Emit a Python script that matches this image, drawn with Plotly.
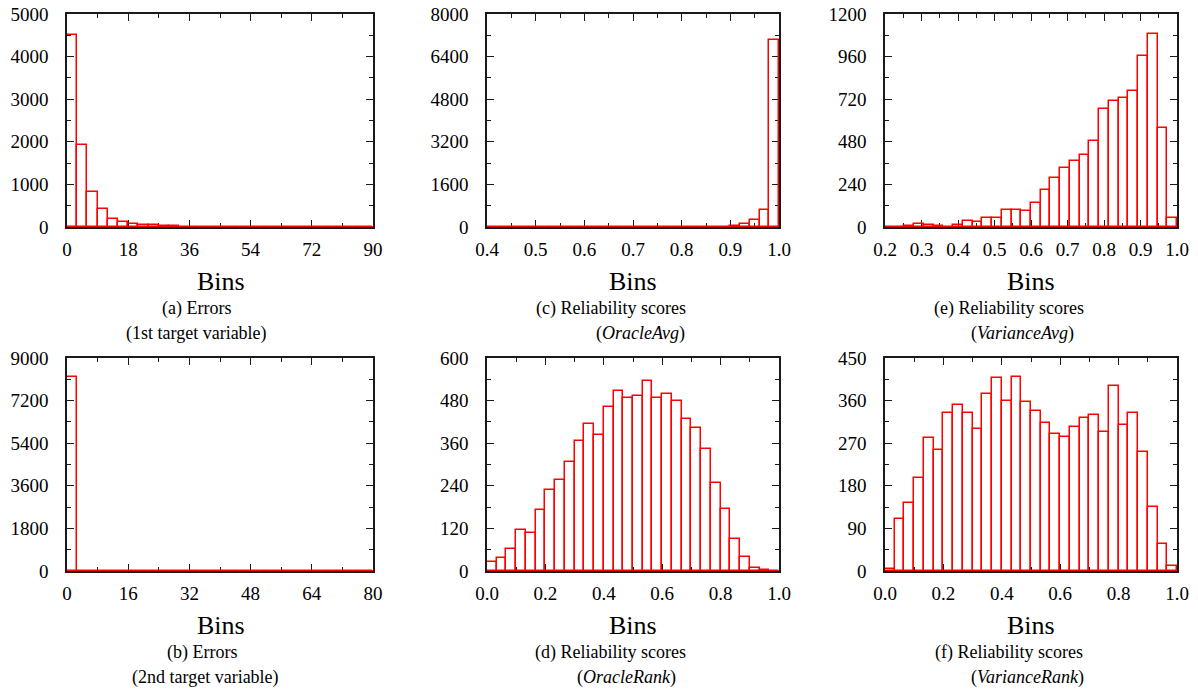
import numpy as np
import plotly.graph_objects as go

# ---- histogram counts (30 equal-width bins per panel) ----
# (a) errors, 1st target variable, bins over [0, 90]
err1_range = (0.0, 90.0)
err1_counts = [4516, 1914, 829, 415, 190, 128, 65, 55, 40, 30,
               12, 6, 4, 2, 2, 1, 1, 1, 0, 0,
               0, 0, 0, 0, 0, 0, 0, 0, 0, 0]

# (b) errors, 2nd target variable, bins over [0, 80]
err2_range = (0.0, 80.0)
err2_counts = [8200, 3, 1, 1, 0, 0, 0, 0, 0, 0,
               0, 0, 0, 0, 0, 0, 0, 0, 0, 0,
               0, 0, 0, 0, 0, 0, 0, 0, 0, 0]

# (c) reliability scores, OracleAvg, bins over [0.4, 1.0]
oracle_avg_range = (0.4, 1.0)
oracle_avg_counts = [0, 0, 0, 0, 0, 0, 0, 0, 0, 0,
                     0, 0, 0, 0, 0, 0, 1, 1, 1, 2,
                     3, 4, 6, 8, 15, 35, 100, 276, 627, 7025]

# (d) reliability scores, OracleRank, bins over [0, 1]
oracle_rank_range = (0.0, 1.0)
oracle_rank_counts = [26, 37, 61, 116, 107, 172, 229, 255, 307, 367,
                      415, 382, 463, 507, 487, 494, 536, 487, 500, 478,
                      427, 402, 344, 249, 174, 89, 40, 9, 2, 1]

# (e) reliability scores, VarianceAvg, bins over [0.2, 1.0]
variance_avg_range = (0.2, 1.0)
variance_avg_counts = [2, 1, 3, 15, 9, 6, 2, 9, 36, 28,
                       49, 53, 94, 98, 90, 135, 206, 278, 332, 371,
                       405, 482, 666, 711, 729, 767, 964, 1086, 557, 49]

# (f) reliability scores, VarianceRank, bins over [0, 1]
variance_rank_range = (0.0, 1.0)
variance_rank_counts = [4, 109, 144, 196, 282, 255, 333, 350, 333, 301,
                        373, 408, 360, 409, 357, 338, 313, 290, 284, 304,
                        323, 330, 294, 391, 308, 334, 251, 136, 57, 11]

# caption texts
captions = {
    "a": ("(a) Errors", "(1st target variable)"),
    "b": ("(b) Errors", "(2nd target variable)"),
    "c": ("(c) Reliability scores", "(<i>OracleAvg</i>)"),
    "d": ("(d) Reliability scores", "(<i>OracleRank</i>)"),
    "e": ("(e) Reliability scores", "(<i>VarianceAvg</i>)"),
    "f": ("(f) Reliability scores", "(<i>VarianceRank</i>)"),
}
x_label = "Bins"

W, H = 1198, 691
FONT = "Liberation Serif, Times New Roman, DejaVu Serif, serif"
RED = "#ff0000"
FRAME = "#1a1a1a"

# panel layout: key, counts, bin range, frame in pixels (x0, x1, y0, y1),
# y range/step, x step/minor step, tick format, caption centres
panels = [
    ("a", err1_counts, err1_range, (67, 373, 14, 227), 5000, 1000, 18, 9, "d", 196.5, 196.5, 221),
    ("c", oracle_avg_counts, oracle_avg_range, (487, 779, 14, 227), 8000, 1600, 0.1, 0.05, ".1f", 610.5, 640, 633),
    ("e", variance_avg_counts, variance_avg_range, (885, 1177, 14, 227), 1200, 240, 0.1, 0.05, ".1f", 1008.5, 1022, 1031),
    ("b", err2_counts, err2_range, (67, 373, 358, 571), 9000, 1800, 16, 8, "d", 202, 205, 221),
    ("d", oracle_rank_counts, oracle_rank_range, (487, 779, 358, 571), 600, 120, 0.2, 0.1, ".1f", 610.5, 626, 633),
    ("f", variance_rank_counts, variance_rank_range, (885, 1177, 358, 571), 450, 90, 0.2, 0.1, ".1f", 1009, 1027.7, 1031),
]

fig = go.Figure()
annotations = []
layout_axes = {}

for i, (key, counts, (lo, hi), (px0, px1, py0, py1), ymax, ystep,
        xstep, xminor, xfmt, cap1_x, cap2_x, bins_x) in enumerate(panels):
    n = len(counts)
    edges = np.linspace(lo, hi, n + 1)
    centers = 0.5 * (edges[:-1] + edges[1:])
    width = edges[1] - edges[0]

    ax = "" if i == 0 else str(i + 1)
    xref, yref = "x" + ax, "y" + ax

    fig.add_trace(go.Bar(
        x=centers, y=counts, width=width,
        marker=dict(color="rgba(0,0,0,0)", line=dict(color=RED, width=1.5)),
        xaxis=xref, yaxis=yref, showlegend=False, hoverinfo="x+y",
    ))
    # red base edge of the histogram boxes along the zero line
    fig.add_trace(go.Scatter(
        x=[lo, hi], y=[0, 0], mode="lines",
        line=dict(color=RED, width=1.5),
        xaxis=xref, yaxis=yref, showlegend=False, hoverinfo="skip",
        cliponaxis=False,
    ))

    common = dict(
        showline=True, linecolor=FRAME, linewidth=1.5, mirror="ticks",
        ticks="inside", ticklen=7, tickwidth=1.2, tickcolor=FRAME,
        showgrid=False, zeroline=False, layer="below traces",
        automargin=False,
        tickfont=dict(family=FONT, size=19, color="#000000"),
    )
    layout_axes["xaxis" + ax] = dict(
        common,
        domain=[px0 / W, px1 / W], anchor=yref,
        range=[lo, hi], tick0=lo, dtick=xstep, tickformat=xfmt,
        minor=dict(ticks="inside", ticklen=4, tickwidth=1.2, tickcolor=FRAME, dtick=xminor, tick0=lo),
        ticklabelstandoff=4,
    )
    layout_axes["yaxis" + ax] = dict(
        common,
        domain=[1 - py1 / H, 1 - py0 / H], anchor=xref,
        range=[0, ymax], tick0=0, dtick=ystep, tickformat="d",
        minor=dict(ticks="inside", ticklen=4, tickwidth=1.2, tickcolor=FRAME, dtick=ystep / 2, tick0=0),
        ticklabelstandoff=13,
    )

    line1, line2 = captions[key]
    annotations.append(dict(
        text=x_label, x=bins_x / W, y=1 - (py1 + 54) / H, xref="paper", yref="paper",
        xanchor="center", yanchor="middle", showarrow=False,
        font=dict(family=FONT, size=26, color="#000000"),
    ))
    annotations.append(dict(
        text=line1, x=cap1_x / W, y=1 - (py1 + 81) / H, xref="paper", yref="paper",
        xanchor="center", yanchor="middle", showarrow=False,
        font=dict(family=FONT, size=18, color="#000000"),
    ))
    annotations.append(dict(
        text=line2, x=cap2_x / W, y=1 - (py1 + 106) / H, xref="paper", yref="paper",
        xanchor="center", yanchor="middle", showarrow=False,
        font=dict(family=FONT, size=18, color="#000000"),
    ))

fig.update_layout(
    width=W, height=H,
    margin=dict(l=0, r=0, t=0, b=0, autoexpand=False),
    paper_bgcolor="white", plot_bgcolor="white",
    bargap=0, barmode="overlay",
    annotations=annotations,
    **layout_axes,
)

fig.write_html("out.html")
